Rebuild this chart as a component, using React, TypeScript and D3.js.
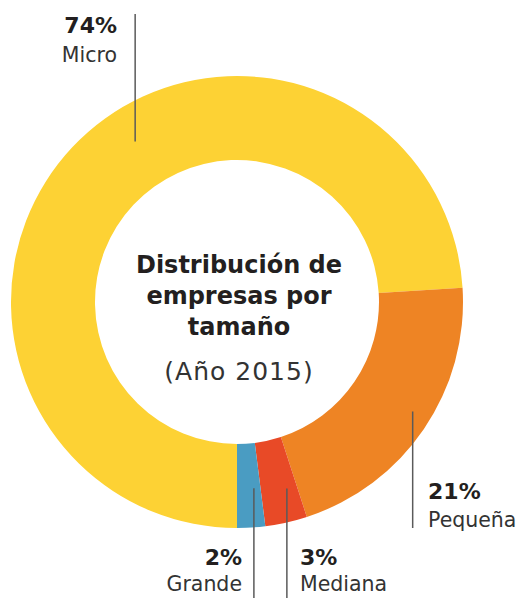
import React from "react";
import * as d3 from "d3";

const categories = ["Micro", "Pequeña", "Mediana", "Grande"];
const values = [74, 21, 3, 2];
const colors = ["#FDD234", "#EE8424", "#E84A27", "#4A9CC2"];
const titleLines = ["Distribución de", "empresas por", "tamaño"];
const subtitle = "(Año 2015)";

const W = 518;
const H = 598;
const cx = 237;
const cy = 302;
const outerR = 226;
const innerR = 142;

// annotation layout: where the leader line meets the slice (fraction of slice, radius),
// where the line ends vertically, and where the text sits
const annot = [
  { frac: 0.554, r: 190, lineEnd: 14, anchor: "end", tx: 117, y1: 33, y2: 62 },
  { frac: 0.47, r: 207, lineEnd: 528, anchor: "start", tx: 428, y1: 499, y2: 527 },
  { frac: 0.28, r: 193, lineEnd: 598, anchor: "start", tx: 300, y1: 565, y2: 591 },
  { frac: 0.28, r: 187, lineEnd: 598, anchor: "end", tx: 242, y1: 565, y2: 591 },
];

export default function App() {
  const pie = d3
    .pie<number>()
    .sort(null)
    .startAngle(Math.PI)
    .endAngle(3 * Math.PI);
  const arcs = pie(values);
  const arc = d3.arc<d3.PieArcDatum<number>>().innerRadius(innerR).outerRadius(outerR);

  const font = "'DejaVu Sans', sans-serif";

  return (
    <svg
      width={W}
      height={H}
      style={{ position: "absolute", left: 0, top: 0, background: "#fff" }}
    >
      <g transform={`translate(${cx},${cy})`}>
        {arcs.map((a, i) => (
          <path key={i} d={arc(a) || ""} fill={colors[i]} />
        ))}
      </g>
      {arcs.map((a, i) => {
        const an = annot[i];
        const ang = a.startAngle + (a.endAngle - a.startAngle) * an.frac;
        const px = cx + an.r * Math.sin(ang);
        const py = cy - an.r * Math.cos(ang);
        return (
          <g key={"l" + i}>
            <line
              x1={px}
              x2={px}
              y1={py}
              y2={an.lineEnd}
              stroke="#5a5a5a"
              strokeWidth={1.5}
            />
            <text
              x={an.tx}
              y={an.y1}
              textAnchor={an.anchor}
              fontFamily={font}
              fontWeight="bold"
              fontSize={22}
              fill="#231f20"
            >
              {values[i]}%
            </text>
            <text
              x={an.tx}
              y={an.y2}
              textAnchor={an.anchor}
              fontFamily={font}
              fontSize={20.5}
              fill="#333"
            >
              {categories[i]}
            </text>
          </g>
        );
      })}
      {titleLines.map((t, i) => (
        <text
          key={"t" + i}
          x={239}
          y={273 + i * 31}
          textAnchor="middle"
          fontFamily={font}
          fontWeight="bold"
          fontSize={24}
          fill="#231f20"
        >
          {t}
        </text>
      ))}
      <text
        x={239}
        y={380}
        textAnchor="middle"
        fontFamily={font}
        fontSize={25}
        letterSpacing={1}
        fill="#333"
      >
        {subtitle}
      </text>
    </svg>
  );
}
